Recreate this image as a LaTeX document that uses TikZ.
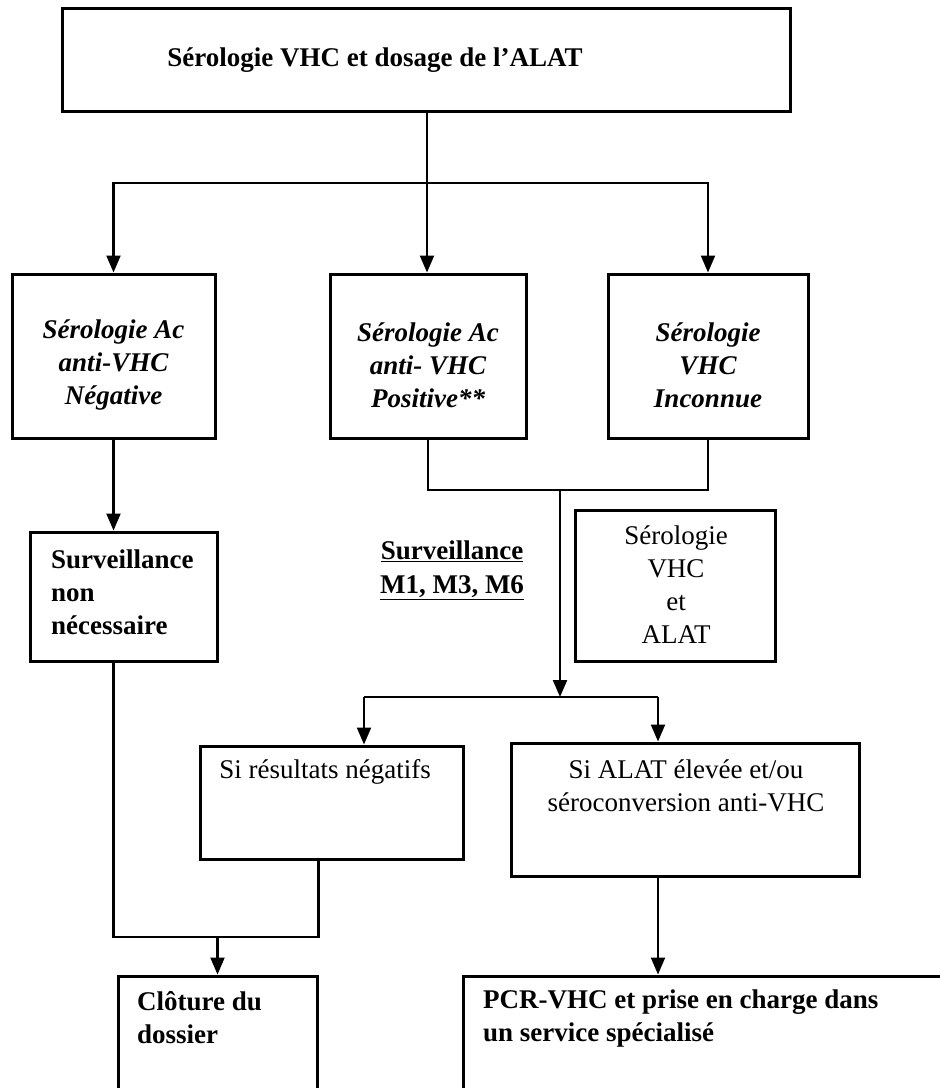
\documentclass[tikz,border=0pt]{standalone}
\usepackage{fontspec}
\setmainfont{Liberation Serif}
\usetikzlibrary{arrows.meta}
\tikzset{
  box/.style={draw, rectangle, line width=3pt, inner sep=0pt},
  conn/.style={line width=2.2pt},
  arr/.style={line width=2.2pt, -{Triangle[length=17pt,width=14pt]}},
  txt/.style={inner sep=0pt, font=\fontsize{27}{33}\selectfont},
}
\begin{document}
\begin{tikzpicture}[x=1pt,y=-1pt]
\useasboundingbox (0,0) rectangle (940,1088);
\clip (0,0) rectangle (940,1088);
\fill[white] (0,0) rectangle (940,1088);
% boxes
\node[box, minimum width=728pt, minimum height=103pt] (top) at (426,59.5) {};
\node[box, minimum width=203pt, minimum height=164pt] (neg) at (113.5,356) {};
\node[box, minimum width=196pt, minimum height=164pt] (pos) at (428,356) {};
\node[box, minimum width=200pt, minimum height=164pt] (unk) at (708,356) {};
\node[box, minimum width=187pt, minimum height=129pt] (surv) at (123.5,596.5) {};
\node[box, minimum width=200pt, minimum height=151pt] (serol) at (675,585.5) {};
\node[box, minimum width=263pt, minimum height=113pt] (sineg) at (331.5,802.5) {};
\node[box, minimum width=348pt, minimum height=133pt] (sialat) at (685,809.5) {};
\node[box, minimum width=199pt, minimum height=140pt] (clot) at (217.5,1046) {};
\node[box, minimum width=494pt, minimum height=140pt] (pcr) at (710,1046) {};
% texts
\node[txt, font=\fontsize{27}{33}\selectfont\bfseries] (t0) at (375,60) {Sérologie VHC et dosage de l’ALAT};
\node[txt, align=center, font=\fontsize{27}{33}\selectfont\bfseries\itshape] (t1) at (113.5,365) {Sérologie Ac\\anti-VHC\\Négative};
\node[txt, align=center, font=\fontsize{27}{33}\selectfont\bfseries\itshape] (t2) at (428,365) {Sérologie Ac\\anti- VHC\\Positive**};
\node[txt, align=center, font=\fontsize{27}{33}\selectfont\bfseries\itshape] (t3) at (708,365) {Sérologie\\VHC\\Inconnue};
\node[txt, align=left, anchor=west, font=\fontsize{27}{33}\selectfont\bfseries] (t4) at (51,592) {Surveillance\\non\\nécessaire};
\node[txt, align=center, font=\fontsize{27}{34}\selectfont\bfseries] (t5) at (452,570) {\underline{Surveillance}\\\underline{M1, M3, M6}};
\node[txt, align=center] (t6) at (676,585) {Sérologie\\VHC\\et\\ALAT};
\node[txt] (t7) at (325,772) {Si résultats négatifs};
\node[txt, align=center] (t8) at (686,786) {Si ALAT élevée et/ou\\séroconversion anti-VHC};
\node[txt, align=left, anchor=west, font=\fontsize{27}{33}\selectfont\bfseries] (t9) at (137,1018) {Clôture du\\dossier};
\node[txt, align=left, anchor=west, font=\fontsize{27}{33}\selectfont\bfseries] (t10) at (483,1018) {PCR-VHC et prise en charge dans\\un service spécialisé};
% junctions
\coordinate (j1) at (427,183);
\coordinate (j2) at (560,490);
\coordinate (j3) at (560,697);
\coordinate (j3l) at (364,697);
\coordinate (j3r) at (658,697);
\coordinate (j4) at (217.5,937);
% connectors
\draw[conn] (j1 |- top.south) -- (j1);
\draw[arr] (j1) -| (neg.north);
\draw[arr] (j1) -- (j1 |- pos.north);
\draw[arr] (j1) -| (unk.north);
\draw[arr] (neg.south) -- (neg.south |- surv.north);
\draw[conn] (pos.south) |- (j2) -| (unk.south);
\draw[arr] (j2) -- (j3);
\draw[conn] (j3l) -- (j3r);
\draw[arr] (j3l) -- (j3l |- sineg.north);
\draw[arr] (j3r) -- (j3r |- sialat.north);
\draw[conn] (neg.south |- surv.south) |- (clot.east |- j4) -- (clot.east |- sineg.south);
\draw[arr] (j4) -- (clot.north);
\draw[arr] (j3r |- sialat.south) -- (j3r |- pcr.north);
\end{tikzpicture}
\end{document}
